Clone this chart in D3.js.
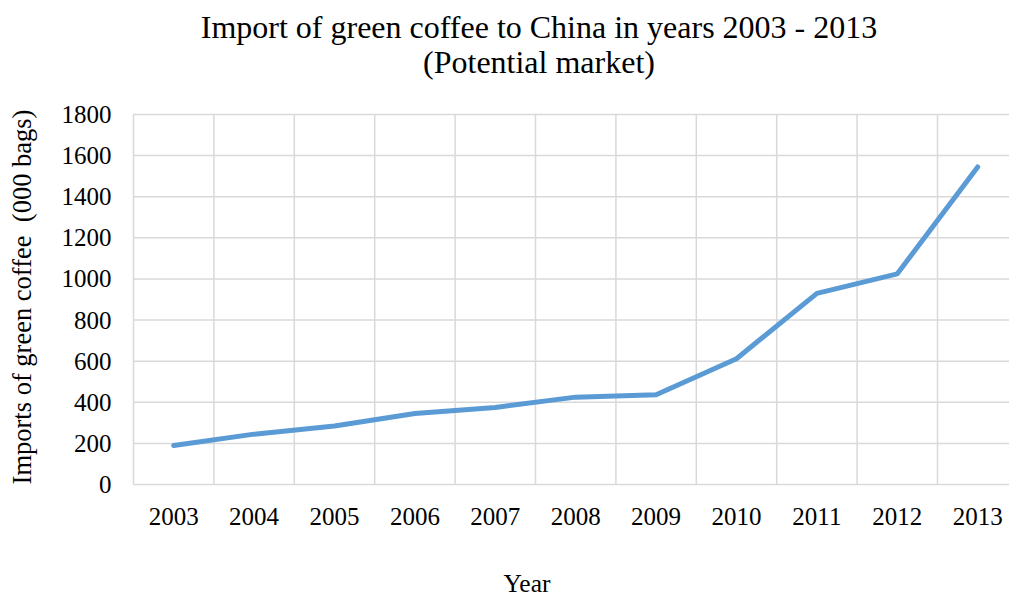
<!DOCTYPE html>
<html>
<head>
<meta charset="utf-8">
<script src="https://cdn.jsdelivr.net/npm/d3@7"></script>
<style>
  html, body { margin: 0; padding: 0; background: #fff; }
  svg { display: block; }
</style>
</head>
<body>
<svg id="chart" width="1009" height="597"></svg>
<script>
// Green coffee imports to China (thousand bags)
const years = ["2003","2004","2005","2006","2007","2008","2009","2010","2011","2012","2013"];
const imports = [190, 245, 285, 345, 375, 425, 437, 612, 930, 1025, 1545];
const yTicks = [0, 200, 400, 600, 800, 1000, 1200, 1400, 1600, 1800];

const titleLines = ["Import of green coffee to China in years 2003 - 2013", "(Potential market)"];
const xTitle = "Year";
const yTitle = "Imports of green coffee  (000 bags)";

(function () {
  const FONT = "'Liberation Serif', 'DejaVu Serif', serif";
  const svg = d3.select("#chart")
    .attr("font-family", FONT)
    .style("font-family", FONT);
  const plotLeft = 133.5, plotTop = 114.5, plotBottom = 484.5;
  const step = 80.4;
  const plotRight = plotLeft + step * years.length;

  const x = d3.scaleBand().domain(years).range([plotLeft, plotRight]).paddingInner(0).paddingOuter(0);
  const y = d3.scaleLinear().domain([0, 1800]).range([plotBottom, plotTop]);

  const gridColor = "#d9d9d9";
  const grid = svg.append("g");

  // horizontal gridlines
  grid.selectAll("line.h").data(yTicks).join("line")
    .attr("class", "h")
    .attr("x1", plotLeft).attr("x2", plotRight)
    .attr("y1", d => y(d)).attr("y2", d => y(d))
    .attr("stroke", gridColor).attr("stroke-width", 1.5);

  // vertical gridlines on category boundaries
  const bounds = years.map(d => x(d)).concat([plotRight]);
  grid.selectAll("line.v").data(bounds).join("line")
    .attr("class", "v")
    .attr("x1", d => d).attr("x2", d => d)
    .attr("y1", plotTop).attr("y2", plotBottom)
    .attr("stroke", gridColor).attr("stroke-width", 1.5);

  // y tick labels
  svg.append("g").selectAll("text").data(yTicks).join("text")
    .attr("x", plotLeft - 22).attr("y", d => y(d) + 8.5)
    .attr("text-anchor", "end")
    .attr("font-size", 25)
    .attr("font-family", FONT)
    .text(d => d);

  // x tick labels
  svg.append("g").selectAll("text").data(years).join("text")
    .attr("x", d => x(d) + x.bandwidth() / 2).attr("y", 525)
    .attr("text-anchor", "middle")
    .attr("font-size", 25)
    .attr("font-family", FONT)
    .text(d => d);

  // data line
  const line = d3.line()
    .x((d, i) => x(years[i]) + x.bandwidth() / 2)
    .y(d => y(d));

  svg.append("path").datum(imports)
    .attr("d", line)
    .attr("fill", "none")
    .attr("stroke", "#5b9bd5")
    .attr("stroke-width", 5)
    .attr("stroke-linecap", "round")
    .attr("stroke-linejoin", "round");

  // title
  svg.append("text").attr("x", 539).attr("y", 38)
    .attr("text-anchor", "middle")
    .attr("font-size", 32).attr("font-family", FONT)
    .text(titleLines[0]);
  svg.append("text").attr("x", 539).attr("y", 73)
    .attr("text-anchor", "middle")
    .attr("font-size", 32).attr("font-family", FONT)
    .text(titleLines[1]);

  // axis titles
  svg.append("text").attr("x", 527).attr("y", 592)
    .attr("text-anchor", "middle")
    .attr("font-size", 25.5).attr("font-family", FONT)
    .text(xTitle);

  svg.append("text")
    .attr("transform", "translate(31,297) rotate(-90)")
    .attr("text-anchor", "middle")
    .attr("font-size", 26.5).attr("font-family", FONT)
    .style("white-space", "pre")
    .text(yTitle);
})();
</script>
</body>
</html>
